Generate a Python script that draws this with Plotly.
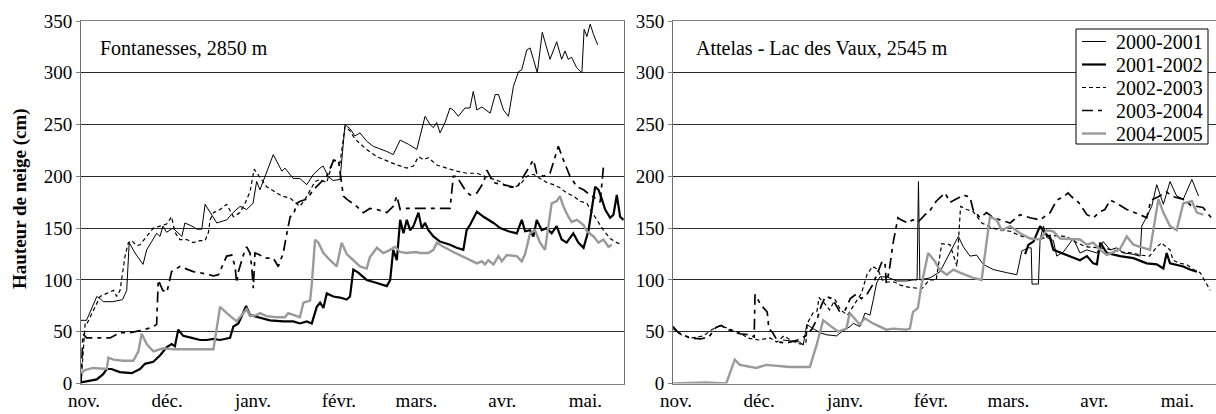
import plotly.graph_objects as go

# ---------------- data (day index since 1 Nov, snow depth in cm) ----------------
MONTH_TICKS = [0, 30, 61, 92, 120, 151, 181]
MONTH_LABELS = ["nov.", "déc.", "janv.", "févr.", "mars.", "avr.", "mai."]
Y_TICKS = [0, 50, 100, 150, 200, 250, 300, 350]
SEASONS = ["2000-2001", "2001-2002", "2002-2003", "2003-2004", "2004-2005"]
STATIONS = ["Fontanesses, 2850 m", "Attelas - Lac des Vaux, 2545 m"]

# Fontanesses, 2850 m
fon_2000 = [(0, 61), (2, 61), (5.7, 84), (6.9, 82), (8, 79), (11.5, 79), (15, 81), (16.5, 90), (17.4, 136),
            (18.3, 131), (19.5, 126), (22.4, 115), (23.7, 129), (27.3, 145), (28.5, 142), (29.6, 152),
            (30.9, 146), (33.2, 150), (36.4, 142), (37.5, 155), (40, 152), (41.8, 149), (43.6, 149),
            (44.8, 173), (46.6, 165), (49, 155), (52.6, 158), (54.9, 165), (57.4, 171), (59.8, 168),
            (62.1, 174), (63.4, 195), (64.6, 187), (66.4, 200), (69.4, 221), (72.5, 205), (73.6, 208),
            (76.6, 198), (79, 198), (81.5, 192), (83.9, 202), (86.3, 208), (87.4, 210), (89.2, 200),
            (91, 196), (93.5, 197), (95.3, 250), (97.1, 246), (98.9, 239), (100.7, 242), (103.1, 234),
            (105.5, 229), (108.6, 226), (110.4, 224), (112.7, 221), (115.2, 235), (118.2, 231),
            (121.2, 226), (124.2, 258), (126, 250), (127.2, 247), (128.4, 252), (129.6, 242), (131.4, 252),
            (133.2, 266), (134.4, 264), (136.2, 258), (138.6, 266), (140.4, 266), (141.6, 282),
            (142.9, 264), (144.7, 267), (147.7, 261), (149.5, 279), (150.7, 279), (152.5, 264),
            (154.3, 258), (156.1, 287), (157.9, 301), (159.1, 303), (160.9, 322), (162.1, 324),
            (163.3, 313), (164.7, 300), (166.5, 339), (169.3, 313), (171.7, 330), (173.5, 313),
            (174.7, 321), (175.9, 313), (177.1, 315), (178.9, 305), (180.8, 300), (181.6, 342),
            (182.6, 335), (183.8, 347), (185, 337), (186.5, 327)]
fon_2001 = [(0, 1), (5.7, 4), (8, 9), (9.3, 14), (11, 14), (14, 11), (18.3, 10), (21.3, 14), (23.1, 19),
            (26.1, 21), (28.5, 27), (30.9, 35), (32.7, 38), (33.9, 36), (35.1, 52), (36.9, 46), (40, 44),
            (43, 42), (45.4, 42), (47.8, 43), (50.2, 42), (53.8, 44), (55, 55), (56.8, 58), (58, 65),
            (59.6, 75), (61, 66), (64, 64), (68.2, 61), (73, 60), (76.6, 60), (79, 58), (81.5, 60),
            (83.3, 58), (85.1, 74), (86.3, 78), (87.5, 73), (88.7, 87), (91.1, 84), (93.5, 83), (95.9, 81),
            (97.1, 84), (98.3, 110), (100.1, 107), (103.1, 100), (106.8, 97), (110.4, 94), (111.6, 100),
            (112.7, 129), (114, 119), (115.2, 158), (116.4, 145), (117.6, 158), (118.8, 148), (120, 152),
            (121.8, 165), (123, 150), (124.2, 155), (125.4, 148), (127.2, 142), (129.6, 137), (133.2, 134),
            (135.6, 131), (138, 129), (139.2, 148), (140.4, 153), (142.9, 166), (145.3, 161), (148.9, 155),
            (151.3, 150), (154.3, 147), (157.3, 145), (159.1, 158), (160.3, 147), (162.1, 148),
            (163.3, 142), (164.5, 158), (166.3, 148), (168.1, 150), (169.9, 145), (171.7, 152),
            (173.5, 139), (175.3, 136), (177.7, 145), (179.5, 136), (181.4, 131), (183.2, 148),
            (185.6, 190), (186.8, 187), (188, 178), (189.2, 168), (191, 160), (192.2, 163), (193.4, 182),
            (194.6, 161), (195.8, 158)]
fon_2002 = [(0, 0), (1.5, 58), (2, 57), (4.4, 71), (5.7, 77), (6.9, 84), (9.3, 87), (11.7, 90), (12.9, 84),
            (14.1, 90), (15.9, 123), (17.1, 136), (18.3, 138), (20.1, 133), (21.3, 134), (23.7, 142),
            (26.1, 150), (28.5, 152), (30.9, 154), (32.7, 161), (33.9, 146), (35.7, 139), (38.2, 139),
            (40.5, 136), (43, 138), (44.8, 138), (46, 146), (46.6, 158), (47.8, 165), (50.2, 168),
            (52.6, 173), (55, 161), (57.4, 165), (59.2, 174), (61, 185), (62.5, 207), (65.7, 195),
            (67, 190), (69.4, 186), (72.5, 181), (75.5, 179), (79, 171), (80.9, 178), (82.7, 187),
            (84.5, 195), (86.3, 197), (88.7, 194), (91.1, 216), (93.5, 213), (95.3, 248), (97.1, 244),
            (98.9, 236), (103.1, 226), (106.8, 219), (110.4, 215), (114, 211), (117.6, 208), (120, 210),
            (121.8, 219), (123.6, 216), (125.4, 218), (128.4, 211), (132, 208), (135.6, 205), (139.2, 203),
            (142.9, 203), (145.8, 200), (148.3, 198), (151.3, 195), (153.7, 190), (156.1, 189),
            (158.5, 192), (160.9, 200), (163.3, 202), (165.7, 198), (168.1, 194), (170.5, 192),
            (172.9, 189), (175.3, 184), (177.7, 181), (180.1, 176), (182.6, 174), (183.8, 168),
            (186.2, 158), (188.6, 148), (191, 140), (193.4, 136), (195.2, 134)]
fon_2003 = [(0, 0), (0.7, 48), (2, 44), (6.9, 44), (10.5, 44), (14.1, 49), (17.7, 49), (21.3, 51),
            (25.5, 54), (27.3, 57), (27.9, 100), (29.5, 90), (31, 88), (32.7, 108), (35.7, 113),
            (40.5, 108), (43, 107), (47.8, 104), (49.6, 105), (52.6, 123), (54.4, 124), (55.6, 113),
            (56.2, 97), (56.8, 108), (58.6, 124), (59.8, 132), (61, 126), (61.6, 113), (62.2, 92),
            (62.8, 126), (64.6, 124), (66.4, 121), (69.4, 121), (71.2, 113), (73, 126), (74.3, 145),
            (75.5, 161), (76.7, 163), (77.9, 174), (79.1, 176), (81.5, 178), (83.9, 187), (86.3, 194),
            (88.7, 200), (91.1, 215), (92.9, 216), (94.7, 181), (95.9, 178), (99.5, 171), (101.9, 165),
            (104.3, 169), (106.8, 168), (110.4, 165), (112.7, 171), (114, 181), (115.2, 168),
            (117.6, 169), (133.2, 169), (134.4, 200), (135.6, 200), (138.6, 187), (140.4, 182),
            (142.9, 184), (145.3, 194), (146.5, 206), (148.9, 194), (157.3, 189), (159.7, 200),
            (163.3, 216), (164.5, 203), (166.9, 200), (169.3, 203), (170.5, 213), (172.3, 229),
            (174.1, 216), (176.5, 200), (179, 190), (181.4, 187), (183.8, 182), (186.2, 178),
            (187.4, 175), (188.6, 210)]
fon_2004 = [(0, 10), (1.4, 13), (4.4, 15), (9.3, 14), (9.9, 25), (11.7, 23), (15.3, 22), (18.9, 22),
            (20.7, 31), (21.9, 48), (23.7, 38), (26.1, 31), (29.7, 34), (33.3, 33), (38.2, 33), (44.2, 33),
            (47.8, 33), (50.2, 74), (52.6, 68), (56.2, 60), (57.4, 64), (59.8, 72), (61, 65), (63.4, 66),
            (64.6, 68), (67, 65), (70.6, 64), (73.6, 64), (74.8, 68), (79, 64), (80.3, 78), (82.7, 80),
            (83.3, 96), (84.5, 139), (85.7, 136), (87.5, 126), (89.9, 119), (92.3, 113), (94.1, 136),
            (95.9, 125), (98.3, 119), (100.7, 113), (103.1, 111), (104.3, 122), (106.8, 131), (109.1, 126),
            (111.6, 129), (113.4, 132), (115.2, 127), (117.6, 126), (120.6, 127), (122.4, 126),
            (125.4, 126), (127.2, 129), (128.4, 136), (130.8, 132), (134.4, 127), (136.8, 124),
            (139.2, 121), (142.9, 116), (144.7, 118), (145.8, 115), (147, 119), (148.9, 115), (150.7, 123),
            (151.9, 118), (153.7, 124), (157.3, 123), (159.1, 118), (160.3, 125), (162.1, 145),
            (163.9, 148), (165.7, 136), (167.5, 129), (168.7, 152), (169.9, 174), (171.7, 176),
            (172.9, 181), (174.1, 171), (175.9, 161), (177.1, 156), (179, 158), (181.4, 153), (182.6, 147),
            (185, 142), (186.8, 136), (188.6, 139), (190.4, 132), (191.6, 134)]

# Attelas - Lac des Vaux, 2545 m
att_2000 = [(39.7, 42), (45.8, 40), (47, 37), (48.3, 57), (50.6, 53), (53.1, 49), (55.5, 47), (59.1, 46),
            (60.9, 50), (63.9, 55), (65.1, 58), (67.5, 55), (69.3, 68), (71.1, 66), (72.3, 81), (73.5, 97),
            (74.7, 103), (77.1, 103), (80.8, 99), (84.4, 99), (86.7, 100), (88.1, 100), (88.6, 195),
            (89.1, 100), (92.8, 102), (96.4, 108), (103, 142), (104.8, 132), (107.2, 123), (109.6, 124),
            (112, 115), (115.6, 110), (120.5, 107), (124.1, 105), (125.9, 128), (128.3, 131), (129.3, 131),
            (129.6, 96), (131.9, 96), (132.5, 139), (133.7, 152), (134.9, 141), (137.3, 138), (138.5, 123),
            (140.9, 127), (144.5, 140), (146.9, 126), (149.4, 129), (153, 126), (155.3, 137), (157.8, 129),
            (160.2, 131), (162.6, 126), (165.6, 125), (168.6, 123), (169.2, 152), (171, 161), (172.8, 171),
            (174.6, 192), (177, 173), (179.4, 195), (181.8, 181), (184.2, 178), (187.3, 197), (189.7, 181)]
att_2001 = [(127.1, 125), (128.3, 134), (130.1, 137), (132.5, 152), (134.3, 145), (136.1, 141),
            (137.3, 129), (142.1, 124), (144.5, 121), (146.9, 119), (149.4, 123), (151.7, 116), (153, 115),
            (154.2, 136), (156.6, 126), (161.4, 123), (166.2, 121), (171, 116), (174.6, 115), (177, 111),
            (178.2, 126), (179.4, 116), (184.2, 113), (186.6, 110), (189.1, 108)]
att_2002 = [(0, 53), (3, 47), (7, 44), (11, 46), (14, 52), (17, 56), (20, 53), (24, 49), (27, 44), (31, 42),
            (35, 44), (37.5, 40), (40, 46), (43, 41), (46, 38), (48, 40), (48.5, 58), (50.5, 68), (52, 70),
            (52.7, 83), (54.5, 78), (56.5, 71), (58.5, 81), (60.5, 71), (63, 66), (66, 78), (68, 87),
            (70, 105), (72, 113), (74, 110), (75.5, 100), (77, 98), (80, 98), (82, 95), (85, 93), (88, 92),
            (90, 92), (92.5, 100), (95, 100), (97, 135), (100, 134), (102.5, 113), (103.8, 171), (106, 168),
            (108.3, 166), (111.5, 155), (114.5, 151), (118, 148), (121.7, 147), (126, 142), (130, 140),
            (132.5, 139), (136, 143), (142, 142), (145, 137), (149, 132), (154, 131), (159, 129),
            (161.5, 127), (166, 126), (168.6, 124), (172, 123), (174.7, 132), (176.5, 136), (177, 134),
            (179.4, 129), (180.5, 119), (183, 116), (185.4, 115), (187.8, 110), (190.3, 107), (192.7, 95),
            (193.9, 90)]
att_2003 = [(0, 55), (2, 49), (6, 44), (10, 43), (13, 45), (15.5, 54), (17.5, 56), (19, 53), (24, 48),
            (27.5, 47), (29.3, 45), (29.6, 86), (31.7, 76), (34, 69), (34.6, 53), (36, 49), (38, 40),
            (41, 39), (45, 42), (48, 46), (50, 52), (52, 62), (53.5, 75), (55, 84), (57.5, 82), (60, 70),
            (62, 70), (64, 82), (66, 86), (68, 82), (70, 86), (72, 95), (74, 108), (75.5, 118), (76.5, 117),
            (77, 97), (78, 108), (79.4, 135), (81.2, 160), (82.3, 158), (84.8, 155), (86.5, 158),
            (88.5, 156), (91, 163), (92.5, 166), (95, 176), (98.2, 184), (100, 175), (103.6, 180),
            (104.7, 182), (107.2, 180), (108.3, 168), (110.8, 160), (113.2, 165), (115.6, 160), (118, 158),
            (121.7, 155), (125.3, 163), (128.9, 160), (132.5, 158), (136.1, 165), (138.5, 177),
            (140.9, 180), (142.6, 184), (144, 180), (145.7, 177), (146.9, 173), (149.4, 163), (151.7, 160),
            (154.2, 166), (155.9, 168), (157.8, 177), (160.2, 174), (163.8, 168), (166.8, 165),
            (168.6, 163), (171, 160), (172.5, 177), (175, 180), (178, 185), (181, 180), (184, 178),
            (187, 172), (191.3, 170), (194.9, 158)]
att_2004 = [(0, 0), (12, 1), (19.2, 0), (22.3, 23), (24.1, 18), (30.1, 15), (33.7, 18), (42.1, 16),
            (49.4, 16), (51.7, 36), (54.2, 61), (56.6, 56), (59.6, 50), (62.6, 53), (63.8, 68), (67.4, 57),
            (69.2, 63), (72.2, 58), (77, 52), (79.4, 53), (84.2, 52), (85.5, 53), (86.6, 69), (88.4, 73),
            (89.6, 94), (92.1, 126), (94.5, 118), (96.3, 110), (98.8, 105), (101.2, 110), (103.6, 107),
            (108.4, 102), (111.4, 100), (114.4, 161), (116.8, 158), (118.7, 148), (121.7, 152),
            (125.3, 145), (128.9, 140), (132.5, 139), (134.9, 148), (137.3, 147), (139.7, 140),
            (146.9, 139), (149.4, 134), (151.7, 136), (154.2, 129), (156.6, 124), (159, 127), (161.4, 130),
            (163.8, 142), (166.2, 134), (171, 130), (172.2, 129), (175.2, 178), (177, 165), (179.4, 152),
            (181.8, 148), (184.2, 174), (187.3, 176), (189.1, 165), (191.4, 163)]

FONTANESSES = [fon_2000, fon_2001, fon_2002, fon_2003, fon_2004]
ATTELAS = [att_2000, att_2001, att_2002, att_2003, att_2004]

# ---------------- styles ----------------
LINE_STYLES = [
    dict(color="#000000", width=1.0, dash="solid"),
    dict(color="#000000", width=2.2, dash="solid"),
    dict(color="#000000", width=1.2, dash="4px,3px"),
    dict(color="#000000", width=1.7, dash="11px,5px,4px,5px"),
    dict(color="#9a9a9a", width=2.4, dash="solid"),
]
FONT = "Liberation Serif, Times New Roman, serif"
W, H = 1216, 414


def px_x(px):
    return px / W


def px_y(py):
    return 1 - py / H


fig = go.Figure()
for series_list, xa, ya in [(FONTANESSES, "x", "y"), (ATTELAS, "x2", "y2")]:
    for season, pts, style in zip(SEASONS, series_list, LINE_STYLES):
        fig.add_trace(go.Scatter(
            x=[p[0] for p in pts], y=[p[1] for p in pts],
            mode="lines", name=season, line=style,
            xaxis=xa, yaxis=ya, showlegend=False, hoverinfo="skip",
        ))

y_dom = [30.5 / H, 1 - 21 / H]
# label axes: no tick marks so that the month labels sit close to the axis line
x_common = dict(range=[0, 196], tickvals=MONTH_TICKS, ticktext=MONTH_LABELS, ticks="",
                showline=True, linecolor="#808080", linewidth=1, ticklabelshift=3,
                mirror=True, showgrid=False, zeroline=False, automargin=False,
                tickfont=dict(family=FONT, size=19, color="black"))
# overlay axes that only draw the short month tick marks
x_ticks_only = dict(range=[0, 196], tickvals=MONTH_TICKS, ticks="outside", ticklen=5,
                    tickcolor="#808080", showticklabels=False, showline=False, showgrid=False,
                    zeroline=False, automargin=False)
y_common = dict(range=[0, 350], tickvals=Y_TICKS, ticks="outside", ticklen=4, tickcolor="#808080",
                showline=True, linecolor="#707070", linewidth=1, mirror=True, showgrid=True,
                gridcolor="#2a2a2a", gridwidth=1, zeroline=False, domain=y_dom, automargin=False,
                tickfont=dict(family=FONT, size=19, color="black"))

# manual legend box (pixel geometry of the reference legend)
LEG_LEFT, LEG_RIGHT, LEG_TOP, LEG_BOTTOM = 1076, 1208, 29, 144
LEG_ROWS = [41.5, 64.5, 87.5, 110.5, 133.5]
shapes = [dict(type="rect", xref="paper", yref="paper", x0=px_x(LEG_LEFT), x1=px_x(LEG_RIGHT),
               y0=px_y(LEG_BOTTOM), y1=px_y(LEG_TOP), fillcolor="white",
               line=dict(color="black", width=1), layer="above")]
annotations = []
for season, style, row in zip(SEASONS, LINE_STYLES, LEG_ROWS):
    shapes.append(dict(type="line", xref="paper", yref="paper", x0=px_x(1082), x1=px_x(1106),
                       y0=px_y(row), y1=px_y(row), layer="above",
                       line=dict(color=style["color"], width=style["width"], dash=style["dash"])))
    annotations.append(dict(text=season, xref="paper", yref="paper", x=px_x(1114), y=px_y(row),
                            xanchor="left", yanchor="middle", showarrow=False,
                            font=dict(family=FONT, size=20, color="black")))

annotations += [
    dict(text=STATIONS[0], xref="paper", yref="paper", x=px_x(98), y=px_y(48),
         xanchor="left", yanchor="middle", showarrow=False, font=dict(family=FONT, size=20)),
    dict(text=STATIONS[1], xref="paper", yref="paper", x=px_x(694), y=px_y(48),
         xanchor="left", yanchor="middle", showarrow=False, font=dict(family=FONT, size=20)),
    dict(text="<b>Hauteur de neige (cm)</b>", xref="paper", yref="paper", x=px_x(20), y=px_y(199),
         xanchor="center", yanchor="middle", textangle=-90, showarrow=False,
         font=dict(family=FONT, size=19)),
]

fig.update_layout(
    width=W, height=H,
    margin=dict(l=0, r=0, t=0, b=0, autoexpand=False),
    paper_bgcolor="white", plot_bgcolor="white",
    font=dict(family=FONT, size=19, color="black"),
    xaxis=dict(domain=[81 / W, 624 / W], anchor="y", **x_common),
    yaxis=dict(anchor="x", **y_common),
    xaxis2=dict(domain=[673 / W, 1.0], anchor="y2", **x_common),
    yaxis2=dict(anchor="x2", **y_common),
    xaxis3=dict(overlaying="x", anchor="y", **x_ticks_only),
    xaxis4=dict(overlaying="x2", anchor="y2", **x_ticks_only),
    showlegend=False,
    shapes=shapes,
    annotations=annotations,
)

fig.write_html("out.html")
